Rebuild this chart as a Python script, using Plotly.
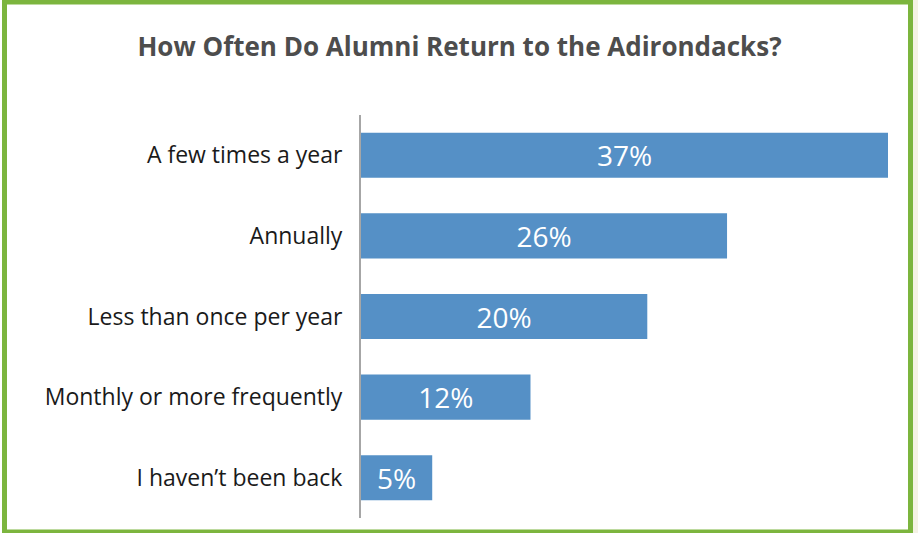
import plotly.graph_objects as go

categories = ["A few times a year", "Annually", "Less than once per year",
              "Monthly or more frequently", "I haven\u2019t been back"]
values = [37.0, 25.7, 20.1, 11.9, 5.0]
value_labels = ["37%", "26%", "20%", "12%", "5%"]

FONT = "Open Sans"

fig = go.Figure(go.Bar(
    y=categories, x=values, orientation="h",
    marker=dict(color="#5590C6", line=dict(width=0)),
    width=0.56,
    text=value_labels, textposition="inside", insidetextanchor="middle",
    textfont=dict(color="white", size=28, family=FONT),
    hoverinfo="skip",
))

W, H = 918, 533
L, R, T, B = 361, 30, 115, 15
pw, ph = W - L - R, H - T - B

def px(p):
    return (p - L) / pw

def py(p):
    return (H - B - p) / ph

fig.update_layout(
    width=W, height=H,
    margin=dict(l=L, r=R, t=T, b=B),
    paper_bgcolor="white", plot_bgcolor="white",
    title=dict(text="<b>How Often Do Alumni Return to the Adirondacks?</b>",
               x=px(459.5), xref="paper", xanchor="center",
               y=1 - 47 / H, yanchor="middle",
               font=dict(family=FONT, size=26, color="#4D4D4D")),
    xaxis=dict(range=[0, 37], showgrid=False, showticklabels=False,
               zeroline=False, showline=False, fixedrange=True),
    yaxis=dict(autorange="reversed", showgrid=False, showline=True,
               linecolor="#A6A6A6", linewidth=2, ticks="",
               ticklabelstandoff=12, fixedrange=True,
               tickfont=dict(family=FONT, size=23, color="#1A1A1A")),
    bargap=0.44,
    showlegend=False,
    shapes=[
        dict(type="rect", xref="paper", yref="paper",
             x0=px(913), x1=px(919), y0=py(-2), y1=py(535),
             fillcolor="#F4F2E4", line=dict(width=0), layer="below"),
        dict(type="rect", xref="paper", yref="paper",
             x0=px(4.5), x1=px(910.5), y0=py(532), y1=py(2),
             line=dict(color="#7CB53E", width=5), fillcolor="rgba(0,0,0,0)"),
    ],
)

fig.write_html("out.html", config={"displayModeBar": False},
               post_script="document.body.style.margin='0';document.body.style.padding='0';")
